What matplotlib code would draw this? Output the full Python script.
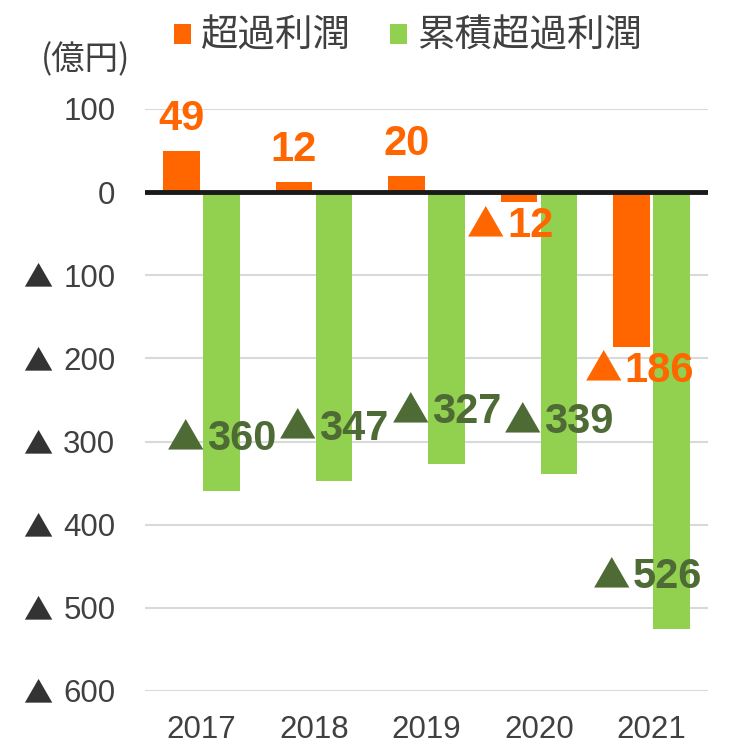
#!/bin/python3

# Libraries
import matplotlib.pyplot as plt
import matplotlib.transforms as mtransforms
from matplotlib.offsetbox import TextArea, HPacker, AnnotationBbox
import numpy as np

plt.rcParams['font.family'] = ['Liberation Sans', 'DejaVu Sans', 'Noto Sans CJK JP']

# Data
years = ['2017', '2018', '2019', '2020', '2021']
excess = [49, 12, 20, -12, -186]              # 超過利潤
cumulative = [-360, -347, -327, -339, -526]   # 累積超過利潤
yticks = [100, 0, -100, -200, -300, -400, -500, -600]
series_names = ['超過利潤', '累積超過利潤']
unit = '(億円)'
TRI = '▲'

ORANGE = '#FF6600'
GREEN = '#92D050'
DARKGREEN = '#4E6B35'
TEXT = '#404040'
TRI_FONT = 'Noto Sans CJK JP'


def value_label(v, color):
    # ▲ from the CJK font (wider glyph), digits in bold Liberation Sans
    parts = []
    if v < 0:
        parts.append(TextArea(TRI, textprops=dict(color=color, fontsize=27,
                                                  family=TRI_FONT)))
    parts.append(TextArea(str(abs(v)), textprops=dict(color=color, fontsize=30,
                                                      fontweight='bold',
                                                      family='Liberation Sans')))
    return HPacker(children=parts, align='baseline', pad=0, sep=2)


fig = plt.figure(figsize=(7.31, 7.47), dpi=100)
ax = fig.add_axes([145.25 / 731, 56 / 747, 562.5 / 731, 582 / 747])

x = np.arange(len(years))
width = 0.325
off = 0.178

ax.bar(x - off, excess, width, color=ORANGE, label=series_names[0], zorder=2)
ax.bar(x + off, cumulative, width, color=GREEN, label=series_names[1], zorder=2)
ax.axhline(0, color='#1a1a1a', lw=3.5, zorder=3)

ax.set_xlim(-0.5, 4.5)
ax.set_ylim(-600, 100)
ax.set_xticks(x)
ax.set_xticklabels(years)
ax.set_yticks(yticks)
ax.set_yticklabels([str(abs(v)) for v in yticks])
ax.yaxis.grid(True, color='#d9d9d9', lw=1.5)
ax.set_axisbelow(True)
for s in ax.spines.values():
    s.set_visible(False)
ax.tick_params(axis='both', length=0, labelsize=22.5, colors=TEXT)
ax.tick_params(axis='y', pad=21.5)
ax.tick_params(axis='x', pad=17)

# ▲ marks for the negative y ticks
trans = mtransforms.blended_transform_factory(ax.transAxes, ax.transData)
for v in yticks:
    if v < 0:
        ax.text((23 - 145.25) / 562.5, v, TRI, transform=trans, ha='left',
                va='center_baseline', fontsize=21, family=TRI_FONT,
                color='#333333', clip_on=False)

# data labels
orange_dx = [0, 0, 0, -9, 8]
for i, v in enumerate(excess):
    dy = 32 if v >= 0 else -24
    ab = AnnotationBbox(value_label(v, ORANGE), (x[i] - off, v),
                        xybox=(orange_dx[i], dy), boxcoords='offset pixels',
                        frameon=False, box_alignment=(0.5, 0.5), zorder=4)
    ax.add_artist(ab)

green_dx = [0, 0, 0, 0, -24]
for i, v in enumerate(cumulative):
    ab = AnnotationBbox(value_label(v, DARKGREEN), (x[i] + off, v),
                        xybox=(green_dx[i], 52), boxcoords='offset pixels',
                        frameon=False, box_alignment=(0.5, 0.5), zorder=4)
    ax.add_artist(ab)

fig.text(86 / 731, 1 - 60 / 747, unit, ha='center', va='center',
         fontsize=24, family='Noto Sans CJK JP', color=TEXT)

fig.legend(loc='center', bbox_to_anchor=(408 / 731, 1 - 37 / 747), ncol=2,
           frameon=False, fontsize=27, labelcolor=TEXT,
           handlelength=0.45, handleheight=0.45, handletextpad=0.27,
           columnspacing=1.05, borderpad=0, borderaxespad=0)

fig.savefig('out.png', dpi=100)
